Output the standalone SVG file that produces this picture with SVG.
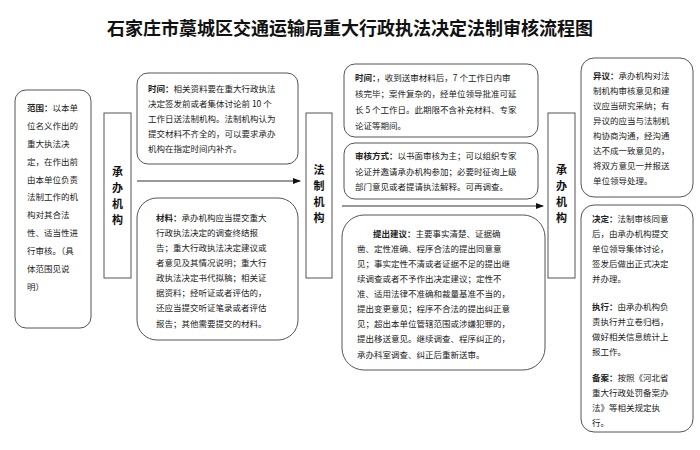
<svg xmlns="http://www.w3.org/2000/svg" width="700" height="450" viewBox="0 0 700 450">
<defs>
<style>
.t{font-family:"Noto Sans CJK SC","Liberation Sans",sans-serif;font-size:8.5px;fill:#222}
.b{font-weight:bold}
.box{fill:#fff;stroke:#555;stroke-width:1}
.lbl{font-family:"Noto Sans CJK SC",sans-serif;font-size:11px;font-weight:bold;fill:#111;text-anchor:middle}
.ttl{font-family:"Noto Sans CJK SC",sans-serif;font-size:18px;font-weight:bold;fill:#111;text-anchor:middle}
.ln{stroke:#333;stroke-width:1;fill:none}
</style>
<marker id="ah" markerWidth="8" markerHeight="6" refX="7" refY="3" orient="auto" markerUnits="userSpaceOnUse">
<path d="M0,0 L8,3 L0,6 Z" fill="#111"/>
</marker>
</defs>
<rect width="700" height="450" fill="#fff"/>
<text class="ttl" x="350" y="35">石家庄市藁城区交通运输局重大行政执法决定法制审核流程图</text>

<g id="scope">
<rect class="box" x="15" y="90" width="76" height="238" rx="11"/>
<text class="t" x="27"><tspan x="27" y="111" class="b">范围：</tspan><tspan>以本单</tspan><tspan x="27" y="129">位名义作出的</tspan><tspan x="27" y="147">重大执法决</tspan><tspan x="27" y="165">定，在作出前</tspan><tspan x="27" y="183">由本单位负责</tspan><tspan x="27" y="200">法制工作的机</tspan><tspan x="27" y="218">构对其合法</tspan><tspan x="27" y="236">性、适当性进</tspan><tspan x="27" y="254">行审核。（具</tspan><tspan x="27" y="272">体范围见说</tspan><tspan x="27" y="290">明）</tspan></text>
</g>

<g id="dept1">
<rect class="box" x="104" y="113" width="27" height="165"/>
<text class="lbl"><tspan x="117.5" y="176">承</tspan><tspan x="117.5" y="192">办</tspan><tspan x="117.5" y="208">机</tspan><tspan x="117.5" y="224">构</tspan></text>
</g>

<g id="time1">
<rect class="box" x="137" y="73" width="161" height="91" rx="11"/>
<text class="t"><tspan x="148" y="92" class="b">时间：</tspan><tspan>相关资料要在重大行政执法</tspan><tspan x="148" y="107">决定签发前或者集体讨论前 10 个</tspan><tspan x="148" y="122">工作日送法制机构。法制机构认为</tspan><tspan x="148" y="137">提交材料不齐全的，可以要求承办</tspan><tspan x="148" y="152">机构在指定时间内补齐。</tspan></text>
</g>

<g id="material">
<rect class="box" x="137" y="198" width="161" height="142" rx="20"/>
<text class="t"><tspan x="156" y="221" class="b">材料：</tspan><tspan>承办机构应当提交重大</tspan><tspan x="156" y="236">行政执法决定的调查终结报</tspan><tspan x="156" y="251">告；重大行政执法决定建议或</tspan><tspan x="156" y="266">者意见及其情况说明；重大行</tspan><tspan x="156" y="281">政执法决定书代拟稿；相关证</tspan><tspan x="156" y="296">据资料；经听证或者评估的，</tspan><tspan x="156" y="311">还应当提交听证笔录或者评估</tspan><tspan x="156" y="327">报告；其他需要提交的材料。</tspan></text>
</g>

<g id="legal">
<rect class="box" x="306" y="113" width="26" height="165"/>
<text class="lbl"><tspan x="319" y="174">法</tspan><tspan x="319" y="190">制</tspan><tspan x="319" y="206">机</tspan><tspan x="319" y="222">构</tspan></text>
</g>

<g id="time2">
<rect class="box" x="344" y="64" width="194" height="73" rx="11"/>
<text class="t"><tspan x="355" y="81" class="b">时间：</tspan><tspan>，收到送审材料后，7 个工作日内审</tspan><tspan x="355" y="97">核完毕；案件复杂的，经单位领导批准可延</tspan><tspan x="355" y="113">长 5 个工作日。此期限不含补充材料、专家</tspan><tspan x="355" y="129">论证等期间。</tspan></text>
</g>

<g id="method">
<rect class="box" x="344" y="143" width="194" height="56" rx="11"/>
<text class="t"><tspan x="355" y="159" class="b">审核方式：</tspan><tspan>以书面审核为主；可以组织专家</tspan><tspan x="355" y="175">论证并邀请承办机构参加；必要时征询上级</tspan><tspan x="355" y="190">部门意见或者提请执法解释。可再调查。</tspan></text>
</g>

<g id="suggest">
<rect class="box" x="342" y="215" width="203" height="155" rx="22"/>
<text class="t"><tspan x="373" y="237" class="b">提出建议：</tspan><tspan>主要事实清楚、证据确</tspan><tspan x="357" y="252">凿、定性准确、程序合法的提出同意意</tspan><tspan x="357" y="267">见；事实定性不清或者证据不足的提出继</tspan><tspan x="357" y="282">续调查或者不予作出决定建议；定性不</tspan><tspan x="357" y="297">准、适用法律不准确和裁量基准不当的，</tspan><tspan x="357" y="312">提出变更意见；程序不合法的提出纠正意</tspan><tspan x="357" y="327">见；超出本单位管辖范围或涉嫌犯罪的，</tspan><tspan x="357" y="342">提出移送意见。继续调查、程序纠正的，</tspan><tspan x="357" y="358">承办科室调查、纠正后重新送审。</tspan></text>
</g>

<g id="dept2">
<rect class="box" x="548" y="113" width="27" height="165"/>
<text class="lbl"><tspan x="561.5" y="174">承</tspan><tspan x="561.5" y="190">办</tspan><tspan x="561.5" y="206">机</tspan><tspan x="561.5" y="222">构</tspan></text>
</g>

<g id="objection">
<rect class="box" x="581" y="58" width="112" height="139" rx="13"/>
<text class="t"><tspan x="593" y="79" class="b">异议：</tspan><tspan>承办机构对法</tspan><tspan x="593" y="94">制机构审核意见和建</tspan><tspan x="593" y="109">议应当研究采纳；有</tspan><tspan x="593" y="124">异议的应当与法制机</tspan><tspan x="593" y="139">构协商沟通，经沟通</tspan><tspan x="593" y="154">达不成一致意见的，</tspan><tspan x="593" y="169">将双方意见一并报送</tspan><tspan x="593" y="184">单位领导处理。</tspan></text>
</g>

<g id="decision">
<rect class="box" x="581" y="205" width="112" height="227" rx="13"/>
<text class="t"><tspan x="592" y="222" class="b">决定：</tspan><tspan>法制审核同意</tspan><tspan x="592" y="237">后，由承办机构提交</tspan><tspan x="592" y="252">单位领导集体讨论，</tspan><tspan x="592" y="267">签发后做出正式决定</tspan><tspan x="592" y="282">并办理。</tspan><tspan x="592" y="310" class="b">执行：</tspan><tspan>由承办机构负</tspan><tspan x="592" y="325">责执行并立卷归档，</tspan><tspan x="592" y="340">做好相关信息统计上</tspan><tspan x="592" y="355">报工作。</tspan><tspan x="592" y="381" class="b">备案：</tspan><tspan>按照《河北省</tspan><tspan x="592" y="396">重大行政处罚备案办</tspan><tspan x="592" y="411">法》等相关规定执</tspan><tspan x="592" y="426">行。</tspan></text>
</g>

<g id="connectors">
<line class="ln" x1="137" y1="181" x2="300" y2="181" marker-end="url(#ah)"/>
<line class="ln" x1="342" y1="206" x2="543" y2="206" marker-end="url(#ah)"/>
</g>
</svg>
